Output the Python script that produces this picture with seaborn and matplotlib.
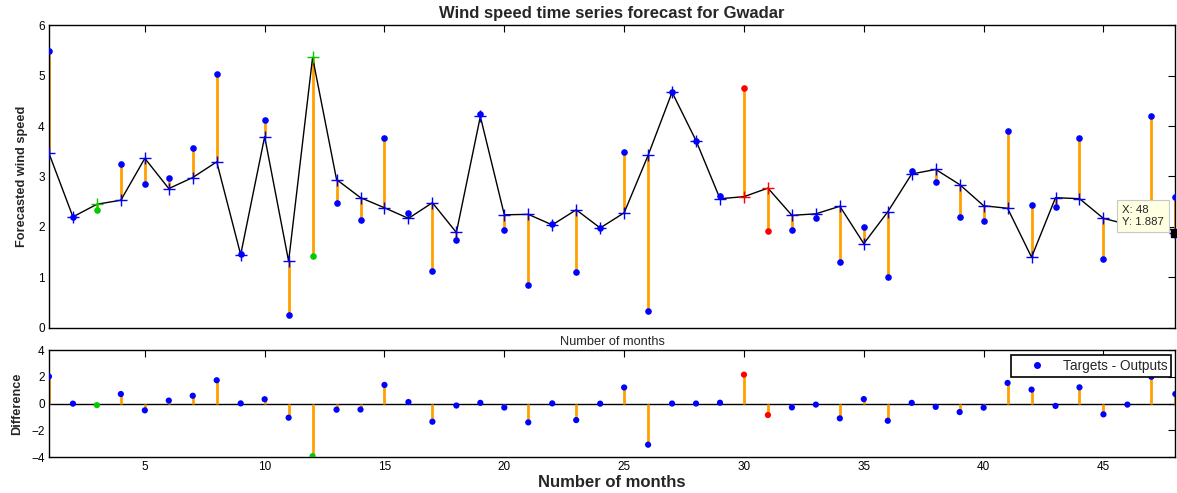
import numpy as np
import pandas as pd
import seaborn as sns
import matplotlib.pyplot as plt
from matplotlib.lines import Line2D

# monthly targets and network outputs
months = list(range(1, 49))
targets = [5.48, 2.19, 2.33, 3.24, 2.85, 2.98, 3.56, 5.03, 1.46, 4.11,
           0.26, 1.42, 2.48, 2.13, 3.77, 2.28, 1.12, 1.74, 4.24, 1.94,
           0.84, 2.05, 1.10, 1.97, 3.48, 0.34, 4.67, 3.71, 2.62, 4.76,
           1.91, 1.94, 2.18, 1.30, 2.00, 1.01, 3.10, 2.89, 2.20, 2.11,
           3.91, 2.44, 2.40, 3.77, 1.36, 1.97, 4.20, 2.60]
outputs = [3.46, 2.20, 2.45, 2.53, 3.36, 2.76, 2.98, 3.29, 1.45, 3.79,
           1.32, 5.36, 2.94, 2.58, 2.38, 2.17, 2.48, 1.89, 4.19, 2.24,
           2.25, 2.04, 2.34, 1.98, 2.28, 3.42, 4.67, 3.71, 2.56, 2.60,
           2.77, 2.23, 2.26, 2.41, 1.67, 2.30, 3.05, 3.14, 2.84, 2.42,
           2.37, 1.40, 2.58, 2.56, 2.17, 2.05, 2.20, 1.887]
# which points are coloured differently (validation = green, test = red)
split = ['train'] * 48
split[2] = split[11] = 'val'
split[29] = split[30] = 'test'

colors = {'train': '#0000FF', 'val': '#00CC00', 'test': '#FF0000'}
orange = '#FFA000'

df = pd.DataFrame({'month': months, 'target': targets, 'output': outputs, 'split': split})
df['error'] = df['target'] - df['output']

sns.set_style('white')
plt.rcParams['font.family'] = ['Liberation Sans', 'DejaVu Sans']

fig = plt.figure(figsize=(11.77, 4.93), dpi=100)
ax1 = fig.add_axes([0.0416, 0.335, 0.957, 0.614])
ax2 = fig.add_axes([0.0416, 0.073, 0.957, 0.217])

# top panel: error bars, output line, target dots
ax1.vlines(df['month'], df['target'], df['output'], color=orange, lw=2, zorder=1)
sns.lineplot(data=df, x='month', y='output', color='black', lw=1, ax=ax1, zorder=2)
for s, c in colors.items():
    sub = df[df['split'] == s]
    ax1.scatter(sub['month'], sub['output'], marker='+', s=80, color=c, lw=1, zorder=3)
    ax1.scatter(sub['month'], sub['target'], marker='o', s=14, color=c, zorder=4)

ax1.set_xlim(1, 48)
ax1.set_ylim(0, 6)
ax1.set_xticks(range(5, 48, 5))
ax1.set_xticklabels([])
ax1.set_yticks(range(0, 7))
ax1.set_title('Wind speed time series forecast for Gwadar', fontsize=12, fontweight='bold', pad=5)
ax1.set_ylabel('Forecasted wind speed', fontsize=9.2, fontweight='bold', labelpad=7)
ax1.set_xlabel('Number of months', fontsize=9.2, labelpad=3)

# data tip
ax1.scatter([48], [1.887], marker='s', s=40, color='black', zorder=6, clip_on=False)
ax1.annotate('X: 48\nY: 1.887', xy=(48, 1.887), xytext=(-11, 6), textcoords='offset pixels',
             ha='right', va='bottom', multialignment='left', fontsize=8.2, linespacing=1.25,
             bbox=dict(boxstyle='square,pad=0.45', fc='#FFFFE1', ec='#C8C8C8', lw=0.8), zorder=7)

# bottom panel: difference stems
ax2.axhline(0, color='black', lw=1, zorder=1)
ax2.vlines(df['month'], 0, df['error'], color=orange, lw=2, zorder=2)
sns.scatterplot(data=df, x='month', y='error', hue='split', palette=colors, s=20,
                edgecolor='none', ax=ax2, legend=False, zorder=3)
handle = Line2D([], [], color='#0000FF', marker='o', markersize=4, linestyle='none')
leg = ax2.legend([handle], ['Targets - Outputs'], loc='upper right', fontsize=9.8,
                 frameon=True, fancybox=False, edgecolor='black', framealpha=1,
                 borderpad=0.3, handlelength=3.3, handletextpad=0.2, borderaxespad=0,
                 bbox_to_anchor=(0.9964, 0.953))
leg.get_frame().set_linewidth(1.2)

ax2.set_xlim(1, 48)
ax2.set_ylim(-4, 4)
ax2.set_xticks(range(5, 48, 5))
ax2.set_yticks([-4, -2, 0, 2, 4])
ax2.set_ylabel('Difference', fontsize=9.2, fontweight='bold', labelpad=6)
ax2.set_xlabel('Number of months', fontsize=12, fontweight='bold', labelpad=1)

for ax in (ax1, ax2):
    ax.tick_params(direction='in', length=5, width=0.8, top=True, right=True,
                   labelsize=8.5, pad=3, colors='black')
    for sp in ax.spines.values():
        sp.set_color('black')
        sp.set_linewidth(1)

fig.savefig('out.png', dpi=100)
